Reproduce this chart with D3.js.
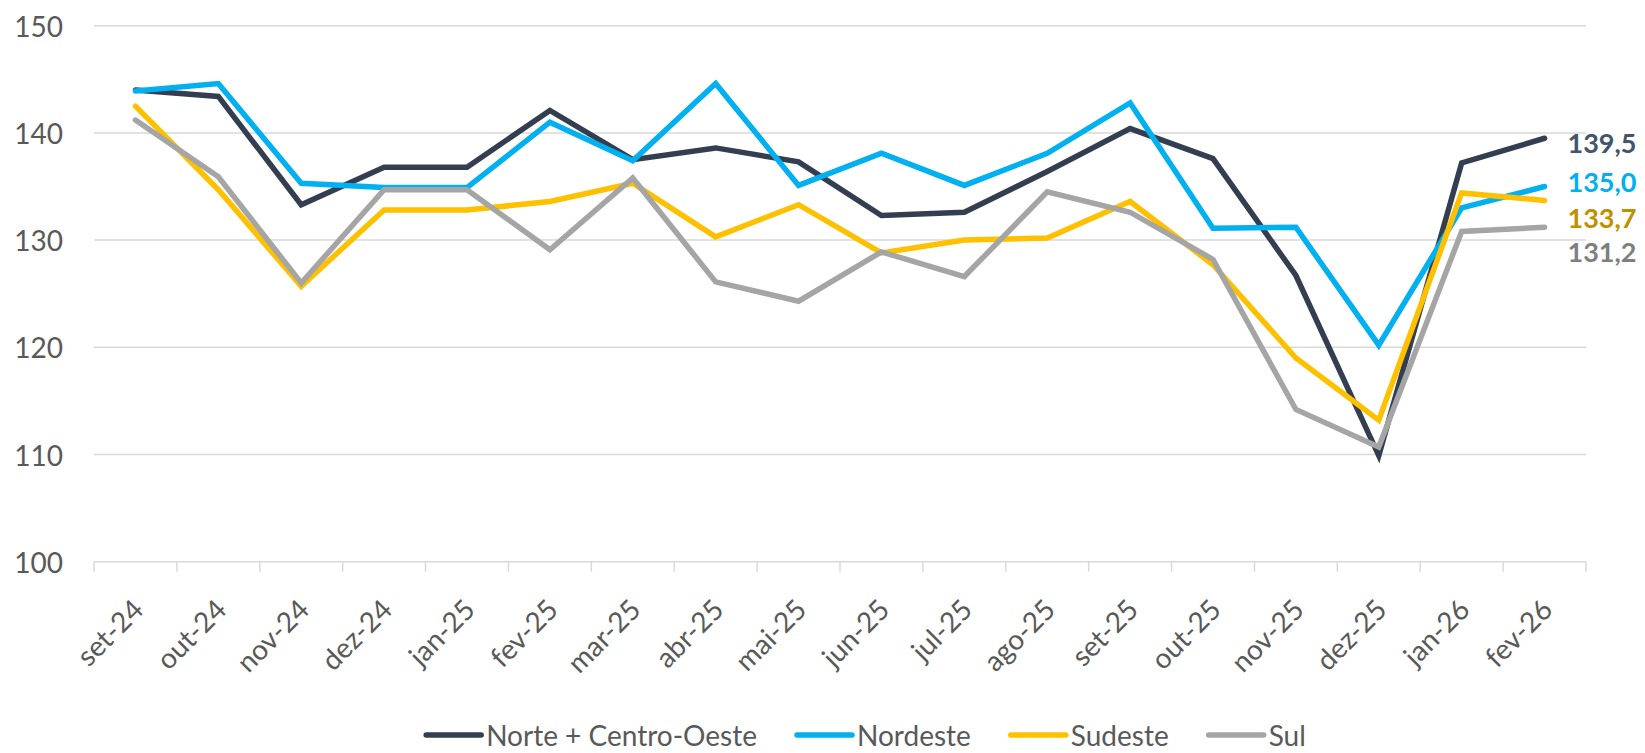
<!DOCTYPE html>
<html>
<head>
<meta charset="utf-8">
<script src="https://cdn.jsdelivr.net/npm/d3@7"></script>
<style>
  html, body { margin: 0; padding: 0; background: #ffffff; }
  svg { display: block; font-family: Lato, "Open Sans", sans-serif; }
</style>
</head>
<body>
<svg id="chart" width="1645" height="753"></svg>
<script>
// ---------------- data ----------------
const categories = ["set-24","out-24","nov-24","dez-24","jan-25","fev-25","mar-25","abr-25","mai-25","jun-25","jul-25","ago-25","set-25","out-25","nov-25","dez-25","jan-26","fev-26"];
const seriesNames = ["Norte + Centro-Oeste", "Nordeste", "Sudeste", "Sul"];
const norteCentroOeste = [144.0,143.4,133.3,136.8,136.8,142.1,137.5,138.6,137.3,132.3,132.6,136.4,140.4,137.6,126.7,109.9,137.2,139.5];
const nordeste         = [143.9,144.6,135.3,134.9,134.9,141.0,137.4,144.6,135.1,138.1,135.1,138.1,142.8,131.1,131.2,120.2,133.0,135.0];
const sudeste          = [142.5,134.7,125.7,132.8,132.8,133.6,135.3,130.3,133.3,128.8,130.0,130.2,133.6,127.7,119.0,113.2,134.4,133.7];
const sul              = [141.2,135.9,126.0,134.7,134.7,129.1,135.8,126.1,124.3,128.9,126.6,134.5,132.6,128.2,114.2,110.7,130.8,131.2];
const yTicks = [100, 110, 120, 130, 140, 150];
const endLabels = ["139,5", "135,0", "133,7", "131,2"];

// ---------------- style ----------------
const lineColors  = ["#333F50", "#00B0F0", "#FFC000", "#A5A5A5"];
const labelColors = ["#44546A", "#00B0F0", "#BF9000", "#7F7F7F"];
const labelDy     = [4, -5.5, 17, 24];
const textColor = "#595959";
const gridColor = "#D9D9D9";

const seriesValues = [norteCentroOeste, nordeste, sudeste, sul];

const svg = d3.select("#chart");
const plot = { left: 94, right: 1586, top: 25.7, bottom: 561.7 };

const x = d3.scaleBand().domain(categories).range([plot.left, plot.right]).paddingInner(0).paddingOuter(0);
const y = d3.scaleLinear().domain([100, 150]).range([plot.bottom, plot.top]);
const cx = c => x(c) + x.bandwidth() / 2;

// gridlines
svg.append("g").selectAll("line").data(yTicks).join("line")
  .attr("x1", plot.left).attr("x2", plot.right)
  .attr("y1", d => y(d)).attr("y2", d => y(d))
  .attr("stroke", gridColor).attr("stroke-width", 1.5);

// y axis labels
svg.append("g").selectAll("text").data(yTicks).join("text")
  .attr("x", 63).attr("y", d => y(d))
  .attr("text-anchor", "end").attr("dominant-baseline", "central")
  .attr("fill", textColor).attr("font-size", 28)
  .text(d => d);

// x axis tick marks at band boundaries
const boundaries = categories.map(c => x(c)).concat([plot.right]);
svg.append("g").selectAll("line").data(boundaries).join("line")
  .attr("x1", d => d).attr("x2", d => d)
  .attr("y1", plot.bottom).attr("y2", plot.bottom + 10)
  .attr("stroke", gridColor).attr("stroke-width", 1.5);

// x axis labels
svg.append("g").selectAll("text").data(categories).join("text")
  .attr("transform", d => `translate(${cx(d) + 2},${plot.bottom + 42}) rotate(-45)`)
  .attr("text-anchor", "end").attr("dominant-baseline", "central")
  .attr("fill", textColor).attr("font-size", 28)
  .text(d => d);

// lines
const line = d3.line().x((d, i) => cx(categories[i])).y(d => y(d));
svg.append("g").selectAll("path").data(seriesValues).join("path")
  .attr("d", d => line(d))
  .attr("fill", "none")
  .attr("stroke", (d, i) => lineColors[i])
  .attr("stroke-width", 5.5)
  .attr("stroke-linejoin", "miter")
  .attr("stroke-linecap", "round");

// end labels
const lastCat = categories[categories.length - 1];
svg.append("g").selectAll("text").data(seriesValues).join("text")
  .attr("x", cx(lastCat) + 23)
  .attr("y", (d, i) => y(d[d.length - 1]) + labelDy[i])
  .attr("dominant-baseline", "central")
  .attr("fill", (d, i) => labelColors[i])
  .attr("font-size", 27).attr("font-weight", "bold")
  .text((d, i) => endLabels[i]);

// legend
const legend = svg.append("g");
const legendY = 735;
let cursor = 0;
seriesNames.forEach((name, i) => {
  const g = legend.append("g");
  g.append("line").attr("x1", cursor).attr("x2", cursor + 55)
    .attr("y1", legendY).attr("y2", legendY)
    .attr("stroke", lineColors[i]).attr("stroke-width", 5.5).attr("stroke-linecap", "round");
  const t = g.append("text").attr("x", cursor + 60).attr("y", legendY)
    .attr("dominant-baseline", "central").attr("fill", textColor).attr("font-size", 28)
    .text(name);
  const w = t.node().getComputedTextLength();
  cursor += 60 + w + (i < seriesNames.length - 1 ? 40 : 0);
});
const legendCenter = 866;
legend.attr("transform", `translate(${legendCenter - cursor / 2},0)`);
</script>
</body>
</html>
